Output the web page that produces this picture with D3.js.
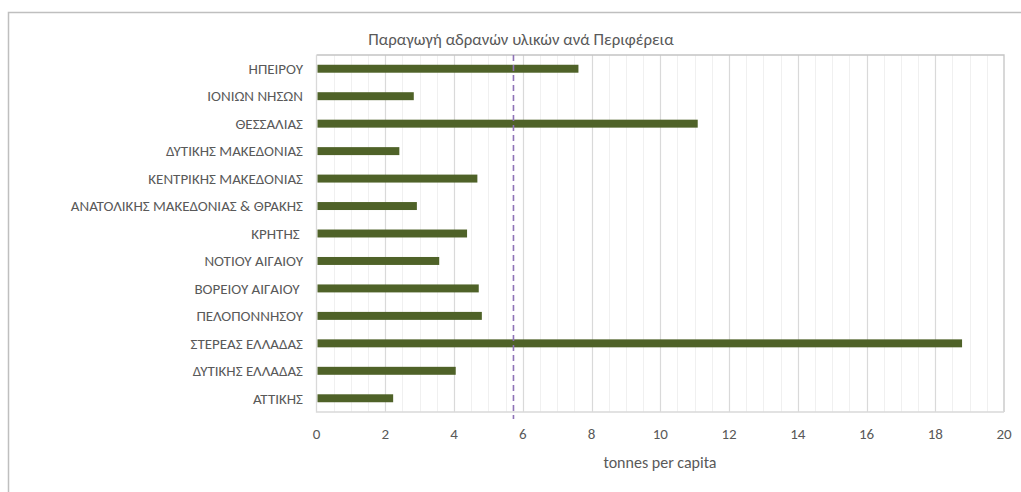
<!DOCTYPE html>
<html>
<head>
<meta charset="utf-8">
<script src="https://cdn.jsdelivr.net/npm/d3@7"></script>
<style>
  body { margin: 0; background: #fff; }
  text { font-family: Carlito, 'Liberation Sans Narrow', Lato, sans-serif; fill: #595959; white-space: pre; }
</style>
</head>
<body>
<div id="chart-container"></div>
<script>
// regions, top to bottom as drawn
const regions = [
  'ΗΠΕΙΡΟΥ', 'ΙΟΝΙΩΝ ΝΗΣΩΝ', 'ΘΕΣΣΑΛΙΑΣ', 'ΔΥΤΙΚΗΣ ΜΑΚΕΔΟΝΙΑΣ',
  'ΚΕΝΤΡΙΚΗΣ ΜΑΚΕΔΟΝΙΑΣ', 'ΑΝΑΤΟΛΙΚΗΣ ΜΑΚΕΔΟΝΙΑΣ & ΘΡΑΚΗΣ', 'ΚΡΗΤΗΣ ',
  'ΝΟΤΙΟΥ ΑΙΓΑΙΟΥ', 'ΒΟΡΕΙΟΥ ΑΙΓΑΙΟΥ ', 'ΠΕΛΟΠΟΝΝΗΣΟΥ', 'ΣΤΕΡΕΑΣ ΕΛΛΑΔΑΣ',
  'ΔΥΤΙΚΗΣ ΕΛΛΑΔΑΣ', 'ΑΤΤΙΚΗΣ'
]
const tonnesPerCapita = [7.62, 2.83, 11.09, 2.41, 4.68, 2.92, 4.38, 3.57, 4.72, 4.81, 18.78, 4.05, 2.23]
const averageLine = 5.73
const xTicks = [0, 2, 4, 6, 8, 10, 12, 14, 16, 18, 20]

const W = 1021, H = 492
const m = { left: 316.5, right: 1004, top: 55, bottom: 412 }

const svg = d3.select('#chart-container').append('svg')
  .attr('width', W).attr('height', H)

// outer chart border (only top & left show in the crop)
svg.append('path')
  .attr('d', `M8.5,${H} L8.5,12.5 L${W},12.5`)
  .attr('fill', 'none').attr('stroke', '#bfbfbf').attr('stroke-width', 1.5)

const x = d3.scaleLinear().domain([0, 20]).range([m.left, m.right])
const y = d3.scaleBand().domain(regions).range([m.top, m.bottom]).paddingInner(0.71).paddingOuter(0.355)

// gridlines: minor every 0.5, major every 2
const g = svg.append('g')
g.selectAll('.minor').data(d3.range(0.5, 20, 0.5).filter(v => v % 2 !== 0))
  .join('line')
  .attr('x1', d => Math.round(x(d)) + 0.5).attr('x2', d => Math.round(x(d)) + 0.5)
  .attr('y1', m.top).attr('y2', m.bottom)
  .attr('stroke', '#f0f0f0').attr('stroke-width', 1)
g.selectAll('.major').data(xTicks.slice(1, -1))
  .join('line')
  .attr('x1', d => Math.round(x(d)) + 0.5).attr('x2', d => Math.round(x(d)) + 0.5)
  .attr('y1', m.top).attr('y2', m.bottom)
  .attr('stroke', '#d9d9d9').attr('stroke-width', 1.2)

// plot area border
svg.append('path')
  .attr('d', `M${m.left},${m.top} L${m.right},${m.top} L${m.right},${m.bottom}`)
  .attr('fill', 'none').attr('stroke', '#c4c4c4').attr('stroke-width', 1.3)
svg.append('path')
  .attr('d', `M${m.left},${m.top} L${m.left},${m.bottom} L${m.right},${m.bottom}`)
  .attr('fill', 'none').attr('stroke', '#d9d9d9').attr('stroke-width', 1.3)

// bars
svg.append('g').selectAll('rect').data(regions)
  .join('rect')
  .attr('x', x(0) + 1)
  .attr('y', d => y(d))
  .attr('width', (d, i) => x(tonnesPerCapita[i]) - x(0) - 1)
  .attr('height', y.bandwidth())
  .attr('fill', '#4f6228')

// average dashed line
svg.append('line')
  .attr('x1', x(averageLine)).attr('x2', x(averageLine))
  .attr('y1', m.top).attr('y2', 419)
  .attr('stroke', '#8e72b6').attr('stroke-width', 1.6)
  .attr('stroke-dasharray', '6,4')

// category labels
svg.append('g').selectAll('text').data(regions)
  .join('text')
  .attr('x', 303)
  .attr('y', d => y(d) + y.bandwidth() / 2)
  .attr('dy', '0.35em')
  .attr('text-anchor', 'end')
  .attr('font-size', 15)
  .text(d => d)

// x tick labels
svg.append('g').selectAll('text').data(xTicks)
  .join('text')
  .attr('x', d => x(d))
  .attr('y', 434)
  .attr('dy', '0.35em')
  .attr('text-anchor', 'middle')
  .attr('font-size', 15)
  .text(d => d)

// axis title
svg.append('text')
  .attr('x', 660).attr('y', 462).attr('dy', '0.35em')
  .attr('text-anchor', 'middle').attr('font-size', 16)
  .text('tonnes per capita')

// chart title
svg.append('text')
  .attr('x', 521).attr('y', 39).attr('dy', '0.35em')
  .attr('text-anchor', 'middle').attr('font-size', 16.8)
  .text('Παραγωγή αδρανών υλικών ανά Περιφέρεια')
</script>
</body>
</html>
